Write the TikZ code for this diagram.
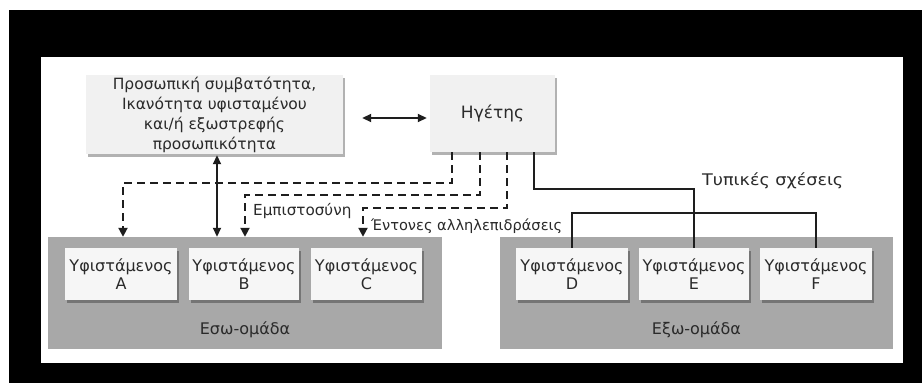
\documentclass[tikz,border=0pt]{standalone}
\usepackage{fontspec}
\setmainfont{DejaVu Sans}
\newfontfamily\widefont[FakeStretch=1.1]{DejaVu Sans}
\usetikzlibrary{arrows.meta,shadows,calc}
\definecolor{txt}{HTML}{2A2A2A}
\definecolor{boxfill}{HTML}{F1F1F1}
\definecolor{subfill}{HTML}{F6F6F6}
\definecolor{grp}{HTML}{A8A8A8}
\definecolor{ln}{HTML}{1E1E1E}
\begin{document}
\begin{tikzpicture}[x=1pt,y=-1pt,
  every node/.style={text=txt,font=\fontsize{15.5}{18}\selectfont},
  topbox/.style={draw=none,fill=boxfill,inner sep=0pt,align=center,
    drop shadow={shadow xshift=2pt,shadow yshift=-3pt,fill=black,opacity=0.3}},
  subbox/.style={draw=none,fill=subfill,inner sep=0pt,align=center,minimum height=52pt,
    font=\fontsize{16}{18.5}\selectfont,
    drop shadow={shadow xshift=2pt,shadow yshift=-3pt,fill=black,opacity=0.3}},
  grpbox/.style={draw=none,fill=grp,inner sep=0pt},
  dsh/.style={draw=ln,line width=2pt,dash pattern=on 8pt off 5pt,-{Triangle[length=9pt,width=9pt]}},
  sol/.style={draw=ln,line width=1.8pt},
  dbl/.style={draw=ln,line width=1.8pt,{Triangle[length=9pt,width=8pt]}-{Triangle[length=9pt,width=8pt]}},
  lbl/.style={anchor=base west,inner sep=0pt,font=\fontsize{15.2}{17}\selectfont}
]
% background frame
\fill[white] (0,0) rectangle (922,383);
\fill[black] (9,10) rectangle (922,383);
\fill[white] (41,57) rectangle (903,363);
\useasboundingbox (0,0) rectangle (922,383);

% top boxes
\node[topbox,minimum width=257pt,minimum height=79pt,
  font=\fontsize{15.5}{20}\selectfont] (pers) at (214.5,114.5)
  {Προσωπική συμβατότητα,\\Ικανότητα υφισταμένου\\και/ή εξωστρεφής\\προσωπικότητα};
\node[topbox,minimum width=125pt,minimum height=77pt,font=\fontsize{17}{20}\selectfont] (leader) at (492.5,113.5) {Ηγέτης};

% groups
\node[grpbox,minimum width=394pt,minimum height=112pt] (ingroup) at (245,293) {};
\node[grpbox,minimum width=393pt,minimum height=112pt] (outgroup) at (696.5,293) {};
\node[font=\fontsize{16}{18}\selectfont] (inlbl) at (245,330) {Εσω-ομάδα};
\node[font=\fontsize{16}{18}\selectfont] (outlbl) at (696.5,330) {Εξω-ομάδα};

% subordinates
\node[subbox,minimum width=112pt] (A) at (121,274) {Υφιστάμενος\\A};
\node[subbox,minimum width=110pt] (B) at (244,274) {Υφιστάμενος\\B};
\node[subbox,minimum width=111pt] (C) at (366.5,274) {Υφιστάμενος\\C};
\node[subbox,minimum width=112pt] (D) at (572,274) {Υφιστάμενος\\D};
\node[subbox,minimum width=110pt] (E) at (694,274) {Υφιστάμενος\\E};
\node[subbox,minimum width=112pt] (F) at (816,274) {Υφιστάμενος\\F};

% helper coordinates
\coordinate (x1) at (452,0);
\coordinate (x2) at (480,0);
\coordinate (x3) at (507,0);
\coordinate (x4) at (534,0);
\coordinate (xv) at (217,0);
\coordinate (h1) at (300,183);
\coordinate (h2) at (350,195);
\coordinate (h3) at (420,208);
\coordinate (h4) at (600,189);
\coordinate (h5) at (700,213);
\coordinate (ya) at (0,118);

% connectors
\draw[dbl] ($(pers.east|-ya)+(19,0)$) -- ($(leader.west|-ya)+(-3,0)$);
\draw[dbl] ($(pers.south-|xv)+(0,1)$) -- (ingroup.north-|xv);
\draw[dsh] (leader.south-|x1) |- (h1) -| ($(ingroup.north-|A)+(2,0)$);
\draw[dsh] (leader.south-|x2) |- (h2) -| ($(ingroup.north-|B)+(1,0)$);
\draw[dsh] (leader.south-|x3) |- (h3) -| ($(ingroup.north-|C)+(-3.5,0)$);
\draw[sol] (leader.south-|x4) |- (h4) -| (E.north);
\draw[sol] (D.north) |- (h5) -| (F.north);

% labels
\node[lbl] (trust) at (253,215) {Εμπιστοσύνη};
\node[lbl,font=\fontsize{14.6}{17}\selectfont] (inter) at (371,230) {Έντονες αλληλεπιδράσεις};
\node[lbl,font=\widefont\fontsize{16}{18}\selectfont] (formal) at (702,185) {Τυπικές σχέσεις};
\end{tikzpicture}
\end{document}
